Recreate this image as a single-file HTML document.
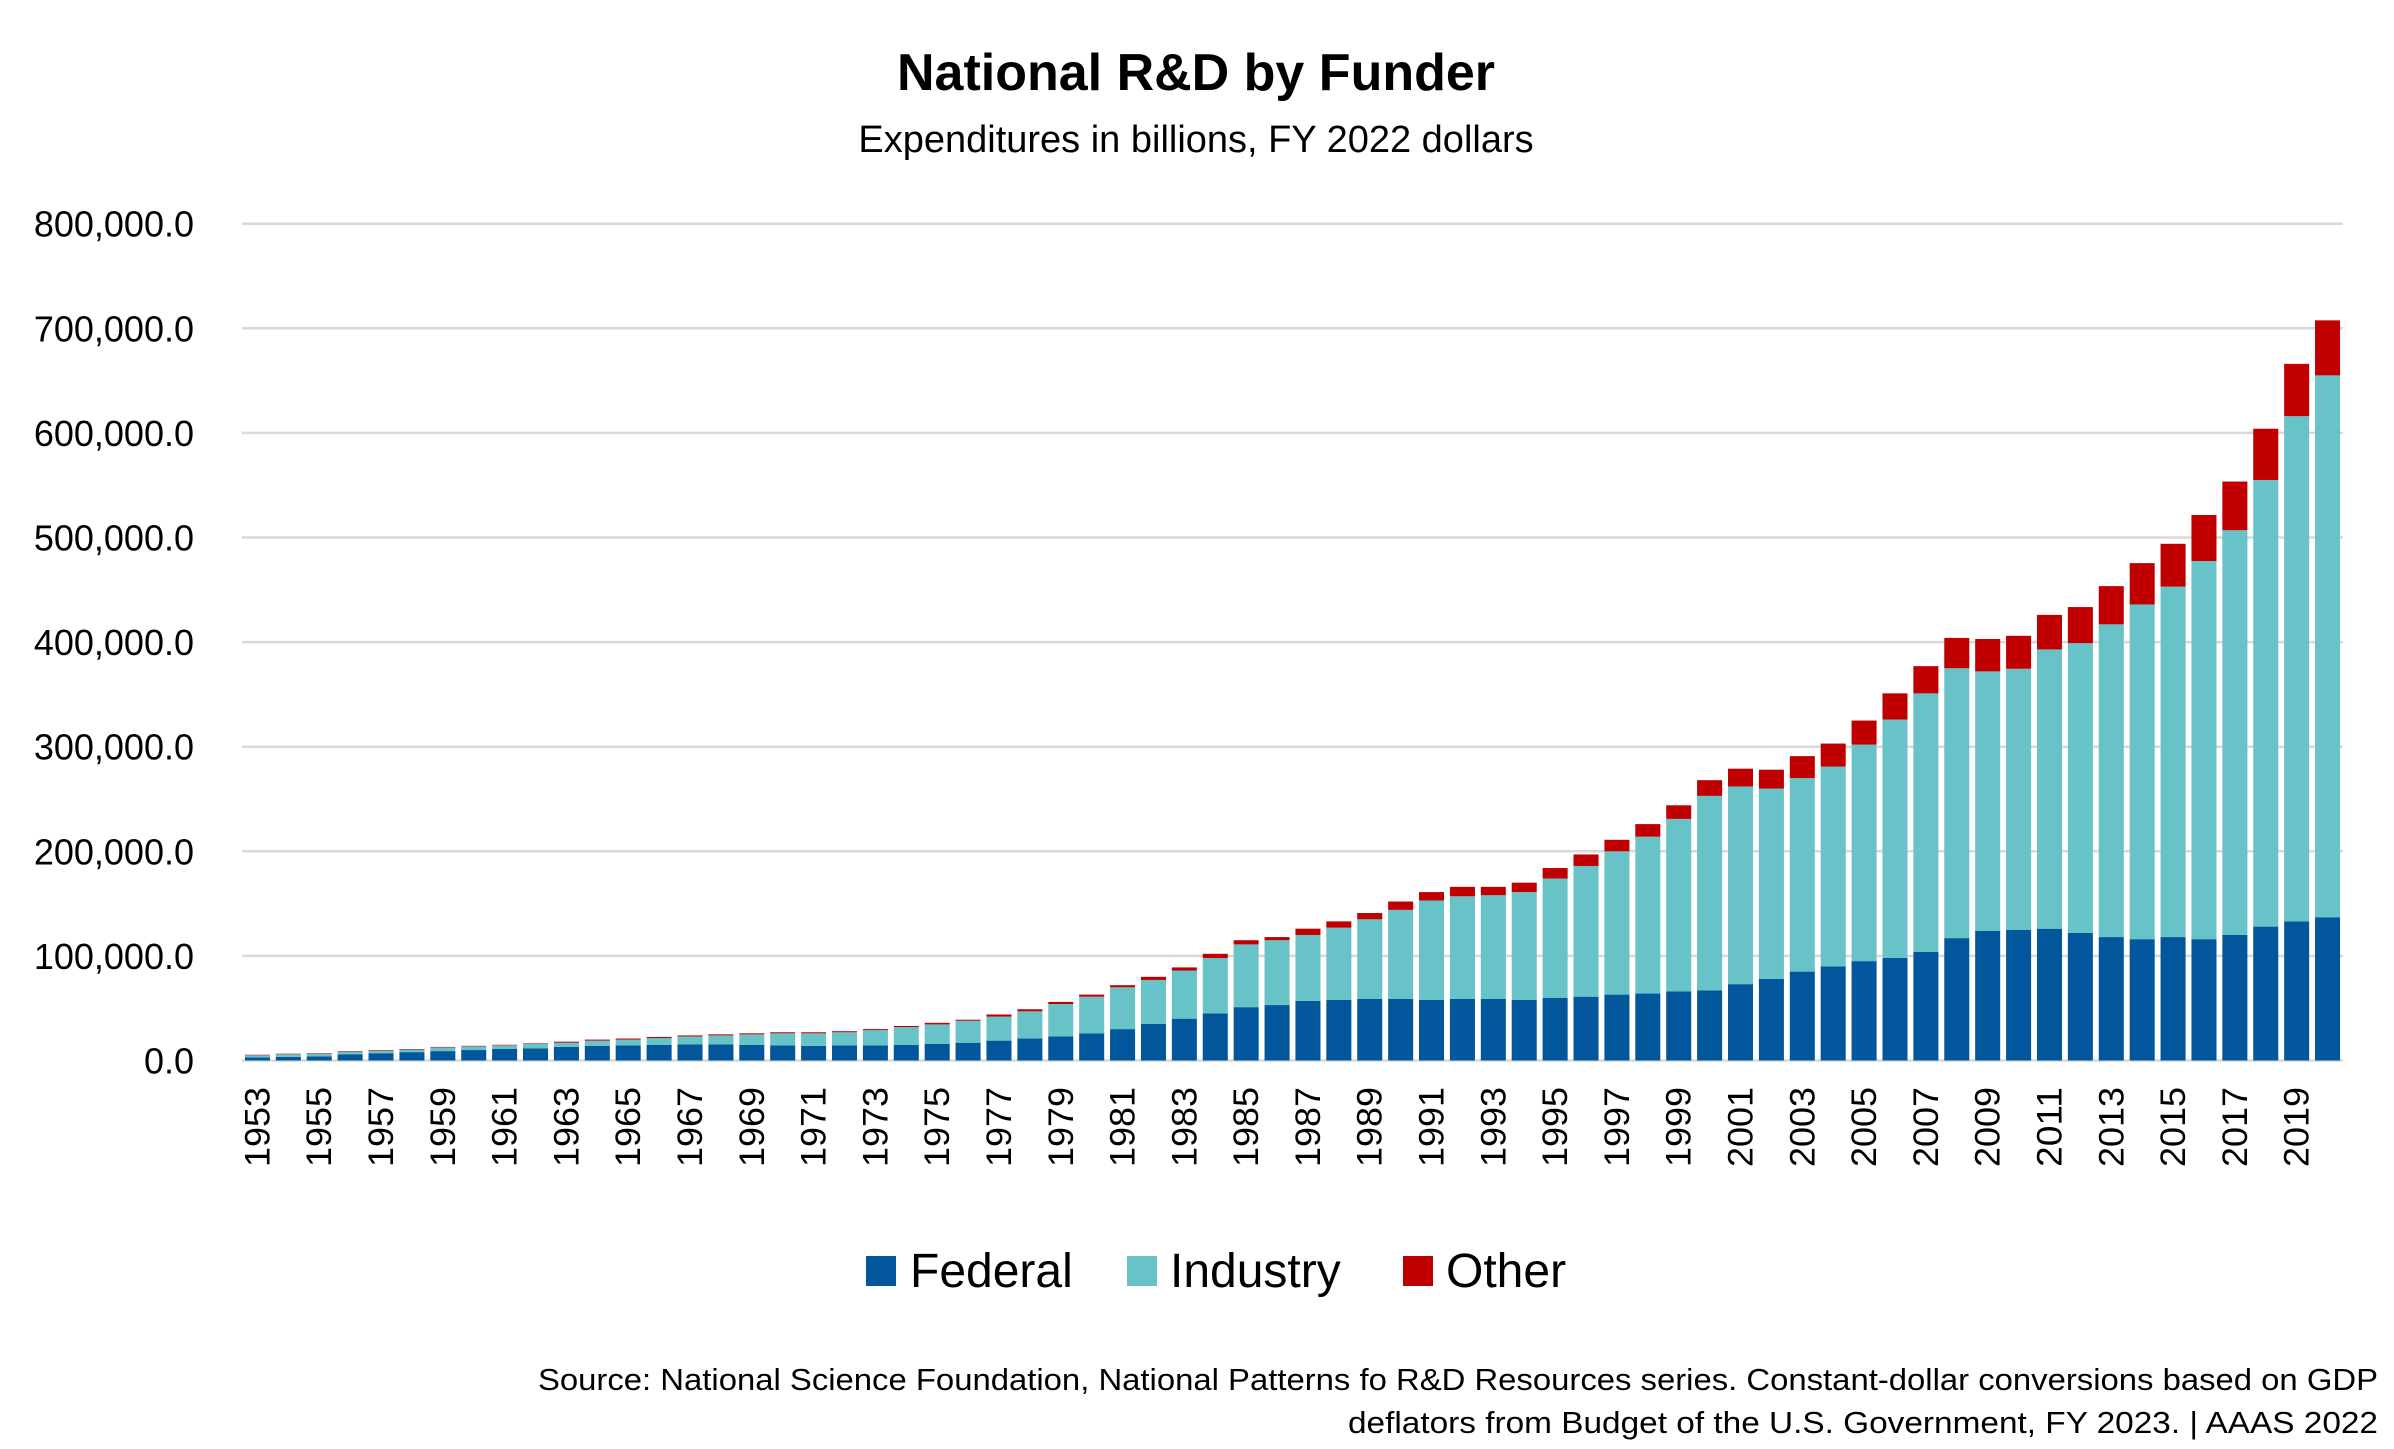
<!DOCTYPE html>
<html><head><meta charset="utf-8"><style>
html,body{margin:0;padding:0;background:#fff;}
svg{display:block;font-family:"Liberation Sans",sans-serif;}
</style></head><body>
<svg id="chart" width="2394" height="1449" viewBox="0 0 2394 1449" xmlns="http://www.w3.org/2000/svg">
<text x="1196" y="90" text-anchor="middle" font-size="52" font-weight="bold" fill="#000">National R&amp;D by Funder</text>
<text x="1196" y="152" text-anchor="middle" font-size="38" fill="#000">Expenditures in billions, FY 2022 dollars</text>
<g id="grid"></g>
<g id="yticks"></g>
<g id="bars"></g>
<g id="xticks"></g>
<g>
<g><rect x="866" y="1256" width="30" height="30" fill="#02569B"/><text x="910" y="1287" font-size="48" fill="#000">Federal</text></g>
<g><rect x="1127" y="1256" width="30" height="30" fill="#67C3C7"/><text x="1170" y="1287" font-size="48" fill="#000">Industry</text></g>
<g><rect x="1403" y="1256" width="30" height="30" fill="#C00000"/><text x="1446" y="1287" font-size="48" fill="#000">Other</text></g>
</g>
<text x="2378" y="1390" text-anchor="end" font-size="31" fill="#000" textLength="1840" lengthAdjust="spacingAndGlyphs">Source: National Science Foundation, National Patterns fo R&amp;D Resources series. Constant-dollar conversions based on GDP</text>
<text x="2378" y="1433" text-anchor="end" font-size="31" fill="#000" textLength="1030" lengthAdjust="spacingAndGlyphs">deflators from Budget of the U.S. Government, FY 2023. | AAAS 2022</text>
</svg>
<script>
const years = [];
for (let y = 1953; y <= 2020; y++) years.push(y);
const federal = [3,3.5,4,6,7,8,9,10,11,11.5,13,14,14.5,15,15.5,15.5,15,14.5,14,14.5,14.5,15,16,17,19,21,23,26,30,35,40,45,51,53,57,58,59,59,58,59,59,58,60,61,63,64,66,67,73,78,85,90,95,98,104,117,124,125,126,122,118,116,118,116,120,128,133,137].map(v=>v*1000);
const industry = [2,2.5,2.5,2.5,2.5,2.5,3.5,3.5,3.5,4.5,4,5,5.5,6.5,7.5,8.5,10,11.5,12,12.5,14.5,17,18.5,21,23,26,31,35,40,42,46,53,60,62,63,69,76,85,95,98,99,103,114,125,137,150,165,186,189,182,185,191,207,228,247,258,248,249.5,267,277,299,320,335,361.5,387,427,483,518].map(v=>v*1000);
const other = [0.5,0.5,0.5,0.5,0.5,0.5,0.5,0.5,0.5,0.5,1,1,1,1,1,1,1,1,1,1,1,1,1.5,1,2,2,2,2,2,3,3,4,4,3,6,6,6,8,8,9,8,9,10,11,11,12,13,15,17,18,21,22,23,25,26,29,31,31.5,33,34.5,36.5,39.5,41,44,46.5,49,50,52.6].map(v=>v*1000);
const yTicks = [0,100000,200000,300000,400000,500000,600000,700000,800000];
const yTickLabels = ["0.0","100,000.0","200,000.0","300,000.0","400,000.0","500,000.0","600,000.0","700,000.0","800,000.0"];

const NS = "http://www.w3.org/2000/svg";
const plotL = 242, plotR = 2343, y0 = 1060.5, yTop = 223.7, yMax = 800000;
const yScale = v => y0 - (v / yMax) * (y0 - yTop);
const band = (plotR - plotL) / years.length;
const xScale = i => plotL + i * band;
const barW = band * 0.81;

const grid = document.getElementById('grid');
const yt = document.getElementById('yticks');
yTicks.forEach((t, i) => {
  const l = document.createElementNS(NS, 'line');
  l.setAttribute('x1', plotL); l.setAttribute('x2', plotR);
  l.setAttribute('y1', yScale(t)); l.setAttribute('y2', yScale(t));
  l.setAttribute('stroke', '#d9d9d9'); l.setAttribute('stroke-width', '2.5');
  
  
  grid.appendChild(l);
  const tx = document.createElementNS(NS, 'text');
  tx.setAttribute('x', 194); tx.setAttribute('y', yScale(t) + 13);
  tx.setAttribute('text-anchor', 'end'); tx.setAttribute('font-size', '36');
  tx.textContent = yTickLabels[i];
  
  
  yt.appendChild(tx);
});

const bars = document.getElementById('bars');
const colors = ['#02569B', '#67C3C7', '#C00000'];
const names = ['federal', 'industry', 'other'];
const series = [federal, industry, other];
years.forEach((yr, i) => {
  let base = 0;
  const x = xScale(i) + (band - barW) / 2;
  series.forEach((s, k) => {
    const v = s[i];
    const r = document.createElementNS(NS, 'rect');
    r.setAttribute('x', x.toFixed(2));
    r.setAttribute('y', yScale(base + v).toFixed(2));
    r.setAttribute('width', barW.toFixed(2));
    r.setAttribute('height', (yScale(base) - yScale(base + v)).toFixed(2));
    r.setAttribute('fill', colors[k]);
    
    
    bars.appendChild(r);
    base += v;
  });
});

const xt = document.getElementById('xticks');
years.forEach((yr, i) => {
  if ((yr - 1953) % 2 !== 0) return;
  const cx = xScale(i) + band / 2;
  const t = document.createElementNS(NS, 'text');
  t.setAttribute('transform', 'translate(' + (cx + 12).toFixed(2) + ',1087) rotate(-90)');
  t.setAttribute('text-anchor', 'end');
  t.setAttribute('font-size', '35');
  t.setAttribute('textLength', '80');
  t.setAttribute('lengthAdjust', 'spacingAndGlyphs');
  t.textContent = yr;
  
  
  xt.appendChild(t);
});
</script>
</body></html>
